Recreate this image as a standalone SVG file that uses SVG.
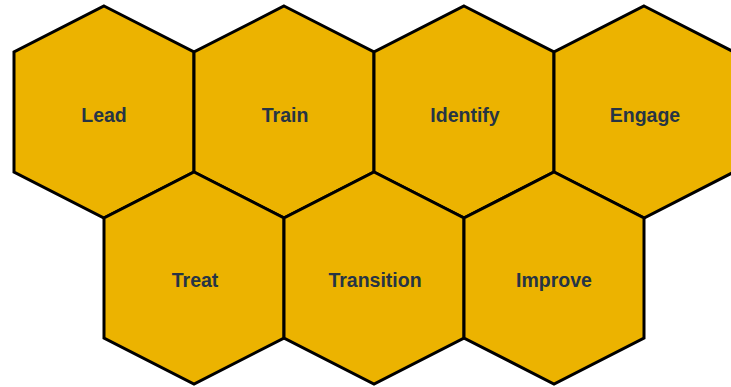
<svg xmlns="http://www.w3.org/2000/svg" width="731" height="387" viewBox="0 0 731 387">
<style>
.hex{fill:#ECB300;stroke:#000;stroke-width:3;stroke-linejoin:miter}
.lbl{font-family:"Liberation Sans",Arial,sans-serif;font-weight:bold;font-size:19.5px;fill:#263445;text-anchor:middle}
</style>
<defs>
<polygon id="hx" points="0,-106 90,-60 90,60 0,106 -90,60 -90,-60"/>
</defs>
<rect width="731" height="387" fill="#fff"/>
<g id="connectors"></g>
<g id="lead" transform="translate(104,112)"><use href="#hx" class="hex"/><text class="lbl" y="10">Lead</text></g>
<g id="train" transform="translate(284,112)"><use href="#hx" class="hex"/><text class="lbl" x="1" y="10">Train</text></g>
<g id="identify" transform="translate(464,112)"><use href="#hx" class="hex"/><text class="lbl" x="1" y="10">Identify</text></g>
<g id="engage" transform="translate(644,112)"><use href="#hx" class="hex"/><text class="lbl" x="1" y="10">Engage</text></g>
<g id="treat" transform="translate(194,278)"><use href="#hx" class="hex"/><text class="lbl" x="1" y="9">Treat</text></g>
<g id="transition" transform="translate(374,278)"><use href="#hx" class="hex"/><text class="lbl" x="1" y="9">Transition</text></g>
<g id="improve" transform="translate(554,278)"><use href="#hx" class="hex"/><text class="lbl" y="9">Improve</text></g>
</svg>
